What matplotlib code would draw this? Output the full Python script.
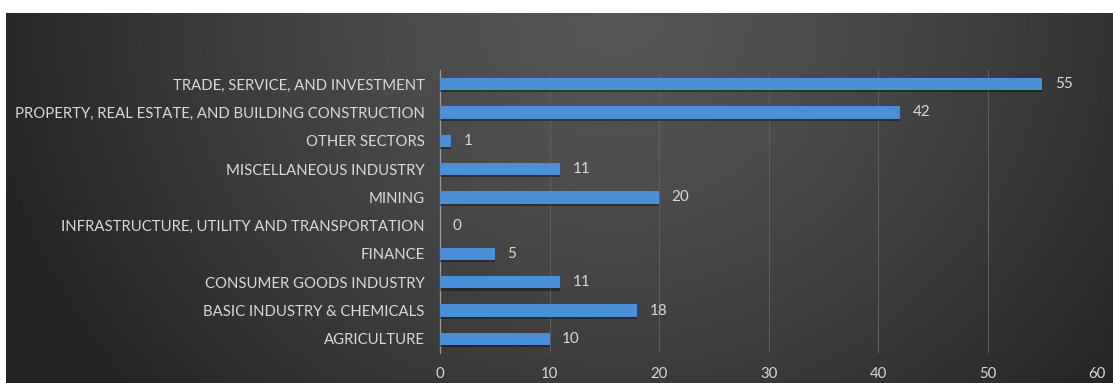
import numpy as np
import matplotlib
matplotlib.use("Agg")
import matplotlib.pyplot as plt
import matplotlib.patheffects as pe

# Sector counts, bottom to top as drawn
SECTORS = [
    "AGRICULTURE",
    "BASIC INDUSTRY & CHEMICALS",
    "CONSUMER GOODS INDUSTRY",
    "FINANCE",
    "INFRASTRUCTURE, UTILITY AND TRANSPORTATION",
    "MINING",
    "MISCELLANEOUS INDUSTRY",
    "OTHER SECTORS",
    "PROPERTY, REAL ESTATE, AND BUILDING CONSTRUCTION",
    "TRADE, SERVICE, AND INVESTMENT",
]
COUNTS = [10, 18, 11, 5, 0, 20, 11, 1, 42, 55]
XTICKS = [0, 10, 20, 30, 40, 50, 60]

TEXT = "#d9d9d9"
BAR = "#4a90d9"
GRID = "#5e5e5e"

plt.rcParams["font.family"] = ["Lato", "DejaVu Sans"]

W, H = 1113, 383
fig = plt.figure(figsize=(W / 100, H / 100), dpi=100)
fig.patch.set_facecolor("white")

# radial grey backdrop (light near top centre, dark toward the edges)
bg = fig.add_axes([6 / W, 0, 1 - 6 / W, 1 - 13 / H])
bg.set_axis_off()
yy, xx = np.mgrid[0:1:300j, 0:1:900j]
r = np.sqrt(((xx - 0.55) / 0.58) ** 2 + ((yy - 0.0) / 1.6) ** 2)
r = np.clip(r, 0, 1)
shade = 0.34 - 0.20 * r ** 1.3
img = np.dstack([shade, shade, shade])
bg.imshow(img, aspect="auto", extent=[0, 1, 1, 0], interpolation="bilinear")
bg.set_xlim(0, 1)
bg.set_ylim(1, 0)

ax = fig.add_axes([440 / W, 1 - 353 / H, (1097 - 440) / W, (353 - 70) / H])
ax.patch.set_alpha(0)
y = np.arange(len(SECTORS))
ax.barh(y, COUNTS, height=0.44, color=BAR, zorder=3,
        path_effects=[pe.SimplePatchShadow(offset=(0, -1.5), shadow_rgbFace="black", alpha=0.35),
                      pe.Normal()])
for yi, v in zip(y, COUNTS):
    ax.annotate(str(v), (v, yi), xytext=(9, 0), textcoords="offset points",
                va="center", ha="left", color=TEXT, fontsize=11)

ax.set_xlim(0, 60)
ax.set_ylim(-0.5, len(SECTORS) - 0.5)
ax.set_xticks(XTICKS)
ax.set_xticklabels([str(t) for t in XTICKS])
ax.set_yticks(y)
ax.set_yticklabels(SECTORS)
ax.tick_params(axis="both", length=0, colors=TEXT, labelsize=10.7)
ax.tick_params(axis="y", pad=11)
ax.tick_params(axis="x", pad=10)
ax.grid(True, axis="x", color=GRID, linewidth=0.8, zorder=0)
for s in ["top", "right", "bottom"]:
    ax.spines[s].set_visible(False)
ax.spines["left"].set_color("#9a9a9a")
ax.spines["left"].set_linewidth(0.9)

fig.savefig("out.png", dpi=100, facecolor=fig.get_facecolor())
